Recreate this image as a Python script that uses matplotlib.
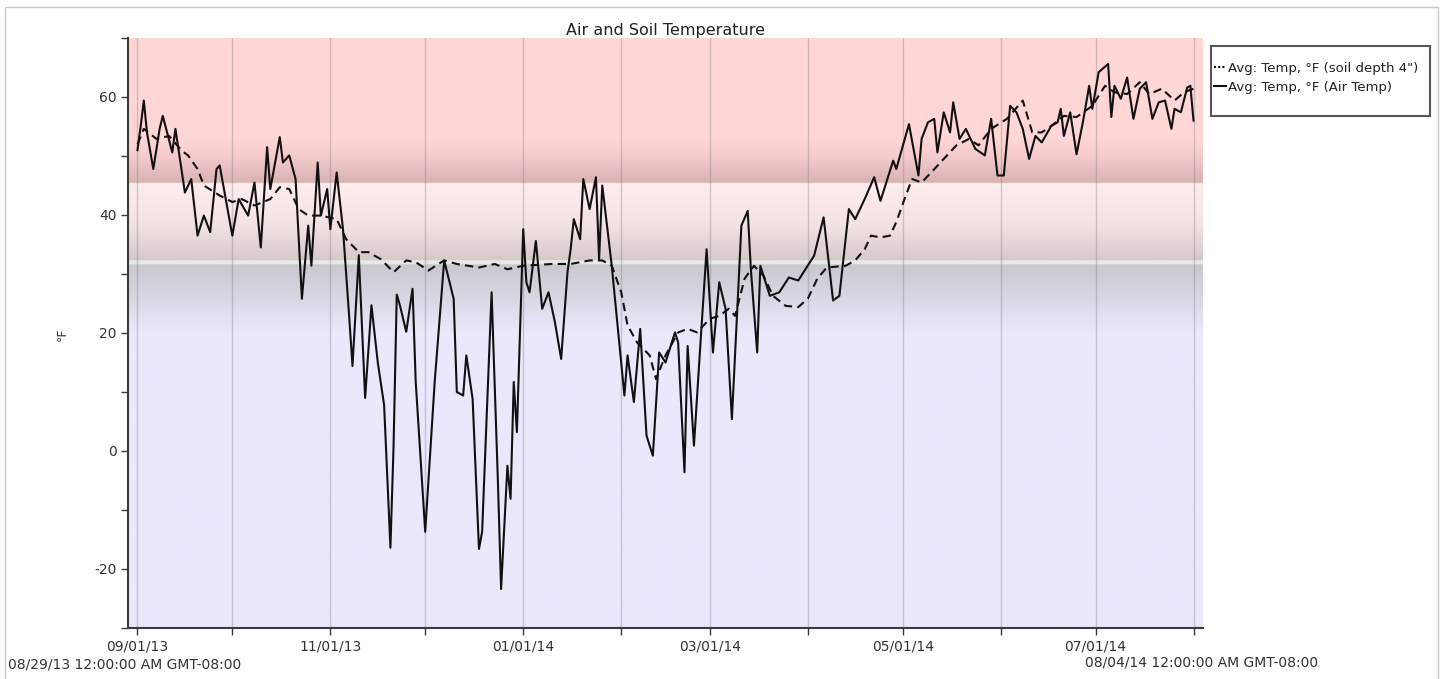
import numpy as np
import pandas as pd
import matplotlib
matplotlib.use("Agg")
import matplotlib.pyplot as plt
import matplotlib.dates as mdates
from matplotlib.colors import to_rgb
from matplotlib.lines import Line2D
from matplotlib.patches import Rectangle
from matplotlib.ticker import MultipleLocator

plt.rcParams["axes.unicode_minus"] = False

start = pd.Timestamp("2013-09-01")

# air temperature: days after 09/01/13, degrees F
air_day = [0, 1, 2, 3, 5, 7, 8, 11, 12, 15,
           17, 19, 21, 23, 25, 26, 30, 32, 35, 37,
           39, 41, 42, 45, 46, 48, 50, 52, 54, 55,
           57, 58, 60, 61, 63, 65, 67, 68, 70, 72,
           74, 76, 78, 80, 81, 82, 83, 85, 87, 88,
           91, 94, 97, 100, 101, 103, 104, 106, 108, 109,
           112, 114, 115, 117, 118, 119, 120, 122, 123, 124,
           126, 128, 130, 132, 134, 136, 137, 138, 140, 141,
           143, 145, 146, 147, 150, 154, 155, 157, 159, 161,
           163, 165, 167, 170, 171, 173, 174, 176, 178, 180,
           182, 184, 186, 188, 191, 193, 194, 196, 197, 200,
           203, 206, 209, 214, 217, 220, 222, 225, 227, 230,
           233, 235, 239, 240, 244, 247, 248, 250, 252, 253,
           255, 257, 258, 260, 262, 265, 268, 270, 272, 274,
           276, 278, 280, 282, 284, 286, 289, 291, 292, 293,
           295, 297, 299, 301, 302, 304, 307, 308, 309, 311,
           313, 315, 317, 319, 321, 323, 325, 327, 328, 330,
           332, 333, 334]
air_temp = [51, 55, 59.4, 54, 47.8, 54.6, 56.8, 50.6, 54.6, 43.8,
            46.1, 36.5, 39.9, 37.1, 47.8, 48.4, 36.5, 42.7, 39.9, 45.5,
            34.5, 51.5, 44.4, 53.2, 48.9, 50.1, 46.1, 25.8, 38.2, 31.4,
            48.9, 39.9, 44.4, 37.6, 47.2, 37.6, 22.4, 14.4, 33.2, 9.0,
            24.7, 15.0, 7.8, -16.4, 1.0, 26.5, 24.7, 20.2, 27.5, 11.7,
            -13.7, 11.7, 32.3, 25.8, 10.0, 9.4, 16.2, 8.8, -16.6, -13.7,
            26.9, -5.3, -23.4, -2.5, -8.1, 11.7, 3.2, 37.6, 28.6, 26.9,
            35.6, 24.1, 26.9, 21.9, 15.6, 30.3, 34.2, 39.3, 35.9, 46.1,
            41.0, 46.4, 32.5, 45.0, 31.4, 9.4, 16.2, 8.3, 20.7, 2.6,
            -0.8, 16.7, 15.0, 20.1, 18.4, -3.6, 17.8, 0.9, 17.8, 34.2,
            16.7, 28.6, 24.1, 5.4, 38.2, 40.7, 30.8, 16.7, 31.4, 26.3,
            26.9, 29.4, 28.9, 33.1, 39.6, 25.5, 26.3, 41.0, 39.3, 42.7,
            46.4, 42.4, 49.2, 47.8, 55.4, 46.7, 52.9, 55.7, 56.3, 50.6,
            57.4, 54.0, 59.1, 52.9, 54.6, 51.2, 50.1, 56.3, 46.7, 46.7,
            58.5, 57.4, 54.6, 49.5, 53.4, 52.3, 55.1, 55.7, 58.0, 53.4,
            57.4, 50.3, 55.7, 61.9, 58.0, 64.2, 65.6, 56.6, 61.9, 59.7,
            63.3, 56.3, 61.4, 62.5, 56.3, 59.1, 59.4, 54.6, 58.0, 57.4,
            61.6, 61.9, 56.0]

# soil temperature at 4" depth
soil_day = [0, 2, 6, 10, 14, 16, 19, 21, 26, 30,
            33, 37, 42, 45, 48, 51, 54, 58, 63, 66,
            70, 73, 77, 81, 85, 88, 92, 97, 101, 108,
            113, 117, 122, 131, 137, 143, 147, 150, 153, 155,
            158, 162, 164, 167, 171, 174, 177, 181, 184, 187,
            189, 192, 195, 198, 201, 205, 209, 212, 215, 218,
            224, 227, 230, 232, 235, 238, 240, 243, 245, 248,
            251, 255, 259, 263, 266, 270, 275, 280, 283, 286,
            289, 293, 297, 302, 306, 309, 313, 317, 320, 324,
            328, 331, 334]
soil_temp = [52, 54.6, 52.9, 53.4, 50.9, 50.1, 47.8, 45.0, 43.3, 42.2,
             42.7, 41.6, 42.7, 44.7, 44.4, 41.0, 39.9, 39.9, 39.3, 35.9,
             33.7, 33.7, 32.5, 30.3, 32.3, 32.0, 30.6, 32.3, 31.7, 31.1,
             31.7, 30.8, 31.4, 31.7, 31.7, 32.3, 32.3, 31.4, 26.9, 21.3,
             18.4, 16.2, 12.2, 16.2, 20.1, 20.7, 20.1, 22.4, 22.9, 24.1,
             22.9, 29.2, 31.4, 29.7, 26.3, 24.6, 24.4, 25.8, 29.2, 31.1,
             31.4, 32.3, 34.2, 36.5, 36.2, 36.5, 38.8, 43.3, 46.1, 45.5,
             47.2, 49.5, 51.8, 52.9, 51.8, 54.6, 56.3, 59.4, 54.0, 54.0,
             55.1, 56.8, 56.6, 58.5, 61.9, 60.8, 60.5, 62.5, 60.5, 61.4,
             59.4, 60.8, 61.4]

series_labels = ['Avg: Temp, \u00b0F (soil depth 4")', "Avg: Temp, \u00b0F (Air Temp)"]
start_label = "08/29/13 12:00:00 AM GMT-08:00"
end_label = "08/04/14 12:00:00 AM GMT-08:00"

air_dates = start + pd.to_timedelta(air_day, unit="D")
soil_dates = start + pd.to_timedelta(soil_day, unit="D")

W, H = 1443, 679
fig = plt.figure(figsize=(W / 100, H / 100), dpi=100)
ax = fig.add_axes([128 / W, 1 - 628 / H, (1203 - 128) / W, (628 - 38) / H])

x0 = mdates.date2num(pd.Timestamp("2013-08-29"))
x1 = mdates.date2num(pd.Timestamp("2014-08-04"))
ax.set_xlim(x0, x1)
ax.set_ylim(-30, 70)

# background bands with soft shading
yy = np.linspace(-30, 70, 1200)
stop_y = [-30, 20, 31.6, 31.7, 32.3, 32.4, 38, 45.4, 45.5, 50, 53, 70]
stop_c = ["#E9E9FB", "#E9E9FB", "#C8C8CE", "#E8E8E8", "#E8E8E8", "#D6C9C9",
          "#F1E2E2", "#FFEDED", "#D8B2B4", "#F5CBCB", "#FFD6D6", "#FFD6D6"]
rgb = np.array([to_rgb(c) for c in stop_c])
img = np.stack([np.interp(yy, stop_y, rgb[:, k]) for k in range(3)], axis=-1)[:, None, :]
ax.imshow(img, extent=[x0, x1, -30, 70], aspect="auto", origin="lower",
          zorder=0, interpolation="bilinear")

ax.plot(soil_dates, soil_temp, color="#111111", lw=1.5, ls=(0, (4, 2.5)), zorder=3)
ax.plot(air_dates, air_temp, color="#111111", lw=1.5, zorder=4)

ax.xaxis.set_major_locator(mdates.MonthLocator(bymonth=[1, 3, 5, 7, 9, 11]))
ax.xaxis.set_minor_locator(mdates.MonthLocator(bymonth=[2, 4, 6, 8, 10, 12]))
ax.xaxis.set_major_formatter(mdates.DateFormatter("%m/%d/%y"))
ax.yaxis.set_major_locator(MultipleLocator(20))
ax.yaxis.set_minor_locator(MultipleLocator(10))
ax.grid(True, which="both", axis="x", color="#7A7A8C", alpha=0.35, lw=1)

for s in ["top", "right"]:
    ax.spines[s].set_visible(False)
for s in ["left", "bottom"]:
    ax.spines[s].set_color("#3A3A3A")
    ax.spines[s].set_linewidth(1.5)
ax.tick_params(which="both", direction="out", length=5, width=1, color="#3A3A3A",
               labelsize=10, labelcolor="#333333", pad=3)

fig.text(665 / W, 1 - 30 / H, "Air and Soil Temperature", ha="center", va="center",
         fontsize=11.5, color="#222222")
fig.text(62 / W, 1 - 334 / H, "\u00b0F", rotation=90, ha="center", va="center",
         fontsize=9, color="#333333")
fig.text(8 / W, 1 - 665 / H, start_label, ha="left", va="center", fontsize=10, color="#333333")
fig.text(1085 / W, 1 - 663 / H, end_label, ha="left", va="center", fontsize=10, color="#333333")

# legend box outside the plot
fig.patches.append(Rectangle((1211 / W, 1 - 116 / H), 219 / W, 70 / H, transform=fig.transFigure,
                             fill=False, edgecolor="#555555", lw=1.5))
handles = [Line2D([], [], color="#111111", lw=1.5, ls=(0, (1, 1))),
           Line2D([], [], color="#111111", lw=1.5)]
fig.legend(handles, series_labels, loc="upper left", bbox_to_anchor=(1214 / W, 1 - 62 / H),
           frameon=False, fontsize=9.5, handlelength=0.9, handletextpad=0.15,
           labelspacing=0.45, borderpad=0, borderaxespad=0, labelcolor="#222222")

# thin frame round the figure
fig.add_artist(Line2D([5 / W, 5 / W, 1438 / W, 1438 / W], [0, 1 - 7 / H, 1 - 7 / H, 0],
                      transform=fig.transFigure, color="#C8C8C8", lw=1))

fig.savefig("out.png", dpi=100)
